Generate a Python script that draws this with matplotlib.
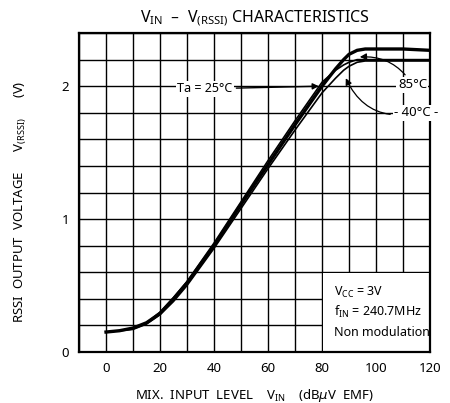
import numpy as np
import matplotlib.pyplot as plt
from matplotlib.patches import Rectangle

plt.rcParams['font.family'] = ['Noto Sans', 'DejaVu Sans']

# input level (dBuV EMF)
vin = [0, 5, 10, 15, 20, 25, 30, 40, 50, 60, 70, 80, 85, 88, 90, 93, 96, 100, 110, 120]
# RSSI output voltage (V) per temperature
v_25 = [0.15, 0.16, 0.18, 0.22, 0.29, 0.40, 0.52, 0.80, 1.11, 1.41, 1.71, 2.00, 2.13, 2.20, 2.24, 2.27, 2.28, 2.28, 2.28, 2.27]
v_85 = [0.15, 0.16, 0.18, 0.22, 0.30, 0.41, 0.53, 0.82, 1.13, 1.44, 1.74, 2.03, 2.12, 2.16, 2.18, 2.20, 2.20, 2.20, 2.20, 2.20]
v_m40 = [0.15, 0.16, 0.17, 0.21, 0.28, 0.38, 0.50, 0.78, 1.08, 1.38, 1.67, 1.95, 2.06, 2.12, 2.15, 2.18, 2.19, 2.19, 2.19, 2.19]

xticks = [0, 20, 40, 60, 80, 100, 120]
yticks = [0, 1, 2]

fig = plt.figure(figsize=(4.5, 4.03), dpi=100)
ax = fig.add_axes([0.1756, 0.1266, 0.78, 0.7914])

ax.set_xlim(-10, 120)
ax.set_ylim(0, 2.4)
ax.set_xticks(np.arange(-10, 121, 10), minor=True)
ax.set_yticks(np.arange(0, 2.41, 0.2), minor=True)
ax.set_xticks(xticks)
ax.set_yticks(yticks)
ax.grid(True, which='both', color='black', lw=1.0)
ax.set_axisbelow(True)
ax.tick_params(which='both', length=0, pad=7, labelsize=9.5)
plt.setp(ax.get_xticklabels() + ax.get_yticklabels(), fontweight='bold')
for s in ax.spines.values():
    s.set_linewidth(1.6)

# white patch behind the condition text
ax.add_patch(Rectangle((80.3, 0.01), 39.5, 0.585, facecolor='white', edgecolor='none', zorder=1.5))

ax.plot(vin, v_m40, color='black', lw=1.2, zorder=3)
ax.plot(vin, v_85, color='black', lw=1.2, zorder=3)
ax.plot(vin, v_25, color='black', lw=2.4, zorder=3)

ax.annotate('Ta = 25°C', xy=(78.8, 2.0), xytext=(36.5, 1.98), fontsize=9, va='center', ha='center',
            bbox=dict(facecolor='white', edgecolor='none', pad=1),
            arrowprops=dict(arrowstyle='-|>', color='black', lw=1.0, shrinkA=2, shrinkB=0), zorder=4)
ax.annotate('85°C', xy=(94, 2.22), xytext=(113.5, 2.01), fontsize=9.5, va='center', ha='center',
            bbox=dict(facecolor='white', edgecolor='none', pad=1),
            arrowprops=dict(arrowstyle='-|>', color='black', lw=0.9, shrinkA=2, shrinkB=0,
                            connectionstyle='arc3,rad=0.3'), zorder=4)
ax.annotate('- 40°C -', xy=(88.8, 2.06), xytext=(115, 1.80), fontsize=9.5, va='center', ha='center',
            bbox=dict(facecolor='white', edgecolor='none', pad=1),
            arrowprops=dict(arrowstyle='-|>', color='black', lw=0.9, shrinkA=2, shrinkB=0,
                            connectionstyle='arc3,rad=-0.4'), zorder=4)

ax.text(84.4, 0.45, 'V$_{\\mathregular{CC}}$ = 3V', fontsize=9, va='center', zorder=4)
ax.text(84.4, 0.30, 'f$_{\\mathregular{IN}}$ = 240.7MHz', fontsize=9, va='center', zorder=4)
ax.text(84.4, 0.15, 'Non modulation', fontsize=9, va='center', zorder=4)

ax.set_title('V$_{\\mathregular{IN}}$  –  V$_{\\mathregular{(RSSI)}}$ CHARACTERISTICS', fontsize=11.5, pad=8)
ax.set_xlabel('MIX.  INPUT  LEVEL    V$_{\\mathregular{IN}}$    (dB$\\mu$V  EMF)', fontsize=9.5, labelpad=9)
ax.set_ylabel('RSSI  OUTPUT  VOLTAGE      V$_{\\mathregular{(RSSI)}}$      (V)', fontsize=9.5)
ax.yaxis.set_label_coords(-0.145, 0.47)

fig.savefig('out.png', dpi=100)
